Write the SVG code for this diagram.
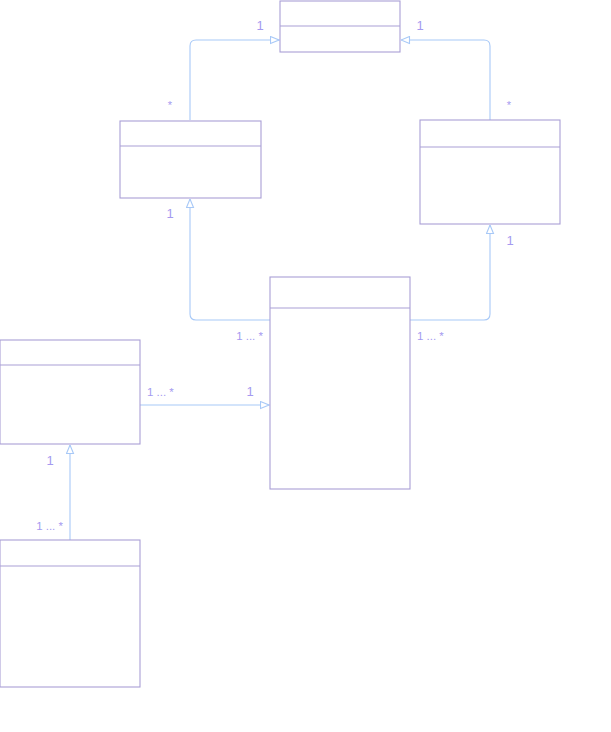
<svg xmlns="http://www.w3.org/2000/svg" width="611" height="732" viewBox="0 0 611 732">
<style>
.box{fill:#fff;stroke:#a99fd6;stroke-width:1.1}
.div{fill:none;stroke:#a99fd6;stroke-width:1.1}
.con{fill:none;stroke:#a8c9f7;stroke-width:1.1}
.lbl{font-family:"Liberation Sans",Arial,sans-serif;font-size:13px;fill:#a59af0}
.mul{font-family:"Liberation Sans",Arial,sans-serif;font-size:11.5px;fill:#a59af0}
.st{font-family:"Liberation Sans",Arial,sans-serif;font-size:11px;fill:#a59af0}
</style>
<defs>
<marker id="arr" viewBox="0 0 10 9" refX="9.5" refY="4.5" markerWidth="10" markerHeight="9" markerUnits="userSpaceOnUse" orient="auto">
<path d="M1,1 L9.5,4.5 L1,8 Z" fill="#fff" stroke="#a8c9f7" stroke-width="1.1"/>
</marker>
</defs>
<g id="connectors">
<path class="con" d="M190,120 L190,46 Q190,40 196,40 L279,40" marker-end="url(#arr)"/>
<path class="con" d="M490,120 L490,46 Q490,40 484,40 L401,40" marker-end="url(#arr)"/>
<path class="con" d="M270,320 L196,320 Q190,320 190,314 L190,199" marker-end="url(#arr)"/>
<path class="con" d="M410,320 L484,320 Q490,320 490,314 L490,225" marker-end="url(#arr)"/>
<path class="con" d="M140,405 L269,405" marker-end="url(#arr)"/>
<path class="con" d="M70,540 L70,445" marker-end="url(#arr)"/>
</g>
<g id="node-a">
<rect class="box" x="280" y="1" width="120" height="51"/>
<path class="div" d="M280,26 L400,26"/>
</g>
<g id="node-b">
<rect class="box" x="120" y="121" width="141" height="77"/>
<path class="div" d="M120,146 L261,146"/>
</g>
<g id="node-c">
<rect class="box" x="420" y="120" width="140" height="104"/>
<path class="div" d="M420,147 L560,147"/>
</g>
<g id="node-d">
<rect class="box" x="270" y="277" width="140" height="212"/>
<path class="div" d="M270,308 L410,308"/>
</g>
<g id="node-e">
<rect class="box" x="0" y="340" width="140" height="104"/>
<path class="div" d="M0,365 L140,365"/>
</g>
<g id="node-f">
<rect class="box" x="0" y="540" width="140" height="147"/>
<path class="div" d="M0,566 L140,566"/>
</g>
<g id="labels">
<text class="lbl" x="260" y="30" text-anchor="middle">1</text>
<text class="st" x="170" y="109" text-anchor="middle">*</text>
<text class="lbl" x="420" y="30" text-anchor="middle">1</text>
<text class="st" x="509" y="109" text-anchor="middle">*</text>
<text class="lbl" x="170" y="218" text-anchor="middle">1</text>
<text class="mul" x="263" y="340" text-anchor="end">1 ... *</text>
<text class="lbl" x="510" y="245" text-anchor="middle">1</text>
<text class="mul" x="417" y="340">1 ... *</text>
<text class="mul" x="147" y="396">1 ... *</text>
<text class="lbl" x="250" y="396" text-anchor="middle">1</text>
<text class="lbl" x="50" y="465" text-anchor="middle">1</text>
<text class="mul" x="63" y="530" text-anchor="end">1 ... *</text>
</g>
</svg>
